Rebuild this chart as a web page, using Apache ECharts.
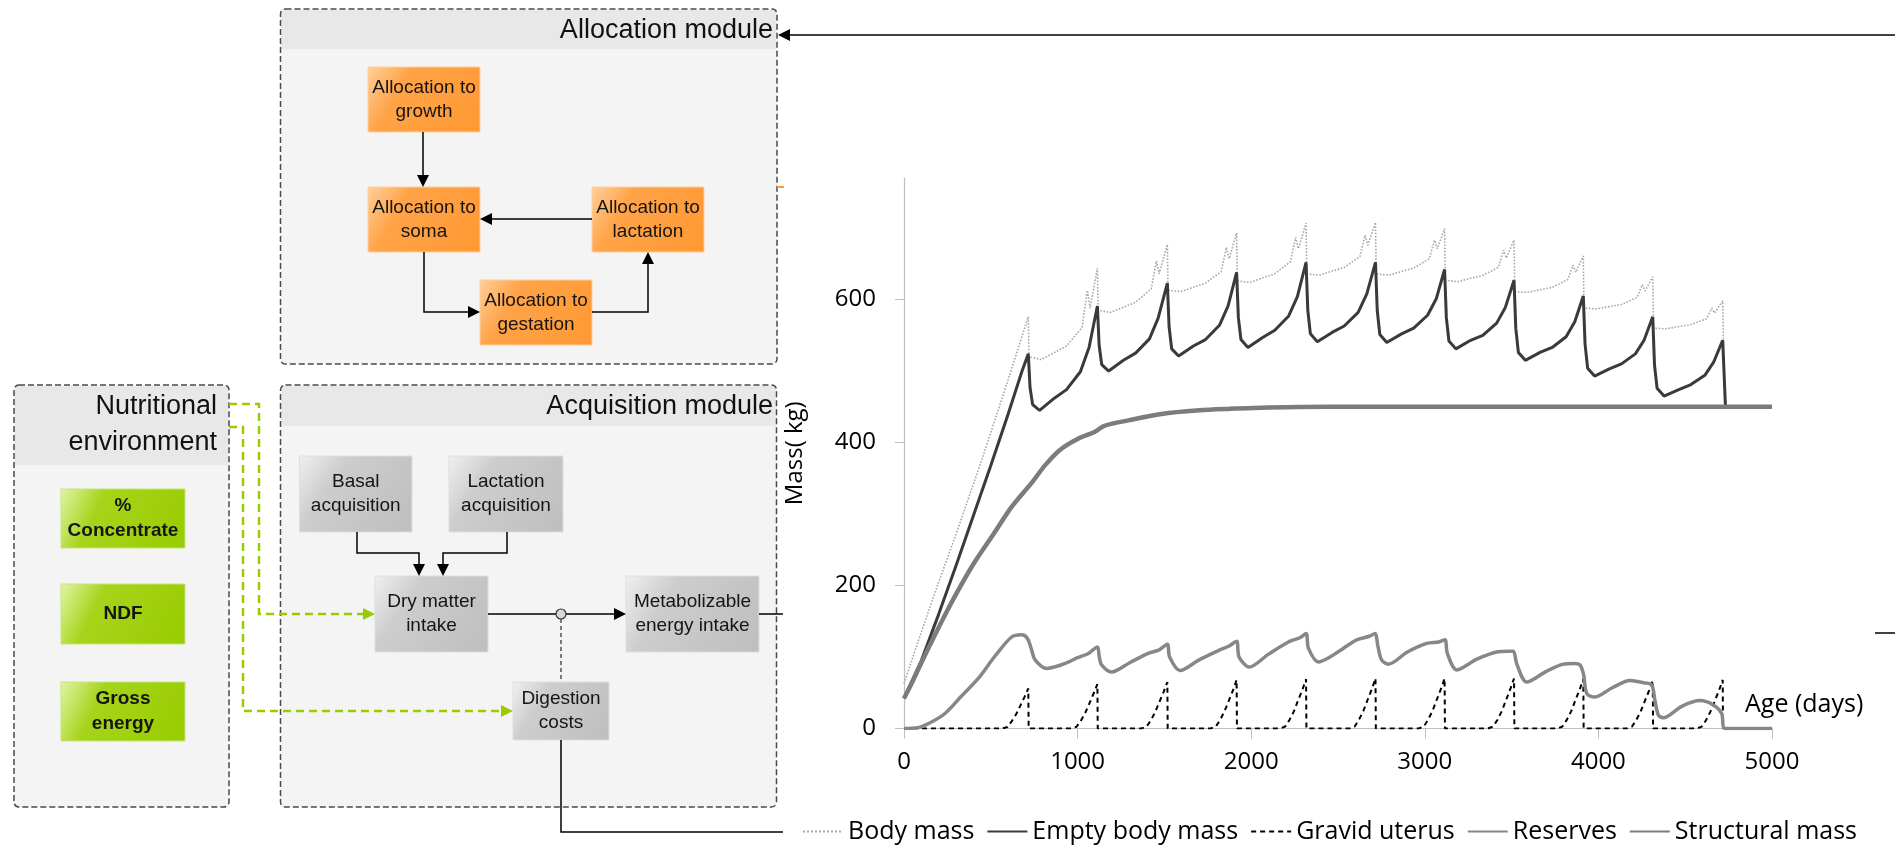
<!DOCTYPE html>
<html><head><meta charset="utf-8">
<script src="https://cdn.jsdelivr.net/npm/echarts@6/dist/echarts.min.js"></script>
<style>html,body{margin:0;padding:0;background:#fff}#c{width:1895px;height:846px}</style>
</head><body><div id="c"></div>
<script>
// ---------- chart data ----------
const ageTicks = [0, 1000, 2000, 3000, 4000, 5000];
const massTicks = [0, 200, 400, 600];
const seriesNames = ['Body mass', 'Empty body mass', 'Gravid uterus', 'Reserves', 'Structural mass'];
const xAxisTitle = 'Age (days)';
const yAxisTitle = 'Mass( kg)';

const bodyMass = [
  [0,63],[100,135],[200,205],[300,272],[447,375],[600,488],[716,576],
  [720,520],[791,516],[936,535],[1026,561],[1056,613],[1072,588],[1114,644],
  [1118,585],[1189,582],[1334,596],[1424,615],[1454,654],[1470,636],[1517,677],
  [1521,613],[1592,611],[1737,623],[1827,639],[1857,673],[1873,657],[1916,693],
  [1920,626],[1991,624],[2136,636],[2226,653],[2256,687],[2272,671],[2316,707],
  [2320,636],[2391,634],[2536,645],[2626,660],[2656,690],[2672,676],[2716,708],
  [2720,636],[2791,634],[2936,644],[3026,657],[3056,683],[3072,671],[3114,699],
  [3118,627],[3189,625],[3334,634],[3424,645],[3454,669],[3470,658],[3514,683],
  [3518,611],[3589,610],[3734,617],[3824,628],[3854,648],[3870,638],[3913,661],
  [3917,588],[3988,587],[4133,593],[4223,603],[4253,621],[4269,612],[4313,632],
  [4317,560],[4388,559],[4533,565],[4623,573],[4653,588],[4669,581],[4716,598],
  [4728,450],[5000,450]
];
const emptyBodyMass = [
  [0,42],[100,95],[200,160],[300,228],[400,298],[500,368],[600,440],[680,500],[716,524],
  [726,477],[741,453],[781,445],[866,462],[936,474],[1016,499],[1066,533],[1114,591],
  [1124,536],[1139,509],[1179,500],[1264,515],[1334,525],[1414,545],[1464,574],[1517,623],
  [1527,562],[1542,531],[1582,521],[1667,535],[1737,544],[1817,564],[1867,591],[1916,638],
  [1926,575],[1941,544],[1981,533],[2066,547],[2136,557],[2216,577],[2266,604],[2316,652],
  [2326,585],[2341,552],[2381,541],[2466,554],[2536,563],[2616,582],[2666,608],[2716,652],
  [2726,585],[2741,551],[2781,540],[2866,552],[2936,560],[3016,578],[3066,601],[3114,642],
  [3124,575],[3139,542],[3179,531],[3264,543],[3334,550],[3414,567],[3464,589],[3514,627],
  [3524,560],[3539,526],[3579,515],[3664,526],[3734,533],[3814,548],[3864,569],[3913,605],
  [3923,538],[3938,504],[3978,493],[4063,503],[4133,510],[4213,524],[4263,543],[4313,576],
  [4323,509],[4338,476],[4378,465],[4463,474],[4533,481],[4613,494],[4663,512],[4716,543],
  [4732,450],[5000,450]
];
const gravidUterus = [
  [0,0],
  [566,0],[596,2],[620,10],[646,20],[668,31],[696,45],[716,56],[718,0],
  [964,0],[994,2.5],[1018,10.5],[1044,22],[1066,34],[1094,50],[1114,62],[1116,0],
  [1367,0],[1397,2.6],[1421,11],[1447,23],[1469,36],[1497,52],[1517,65],[1519,0],
  [1766,0],[1796,2.7],[1820,11.5],[1846,24],[1868,37],[1896,54],[1916,68],[1918,0],
  [2166,0],[2196,2.8],[2220,11.7],[2246,24],[2268,38],[2296,55],[2316,69],[2318,0],
  [2566,0],[2596,2.8],[2620,12],[2646,24.5],[2668,38.5],[2696,56],[2716,70],[2718,0],
  [2964,0],[2994,2.8],[3018,12],[3044,24.5],[3066,38.5],[3094,56],[3114,70],[3116,0],
  [3364,0],[3394,2.8],[3418,12],[3444,24.5],[3466,38.5],[3494,56],[3514,70],[3516,0],
  [3763,0],[3793,2.8],[3817,11.7],[3843,24],[3865,38],[3893,55],[3913,69],[3915,0],
  [4163,0],[4193,2.7],[4217,11.4],[4243,23.5],[4265,37],[4293,53.5],[4313,67],[4315,0],
  [4566,0],[4596,2.7],[4620,11.5],[4646,24],[4668,37],[4696,54],[4716,68],[4718,0],[4735,0]
];
const reserves = [
  [0,0],[80,1],[150,8],[236,21],[330,45],[428,70],[520,100],[620,128],[678,131],[711,126],
  [735,110],[755,96],[822,84],[880,87],[946,93],[1000,99],[1062,105],[1114,114],
  [1125,100],[1138,89],[1196,79],[1300,92],[1407,105],[1470,110],[1517,118],
  [1530,100],[1590,81],[1700,96],[1811,109],[1870,115],[1916,122],
  [1930,100],[1989,86],[2100,104],[2214,121],[2280,127],[2316,133],
  [2330,112],[2387,93],[2454,100],[2530,112],[2608,124],[2680,129],[2713,133],
  [2730,115],[2751,96],[2790,90],[2900,107],[3011,119],[3080,121],[3116,124],
  [3130,105],[3184,82],[3300,97],[3414,107],[3480,108],[3510,108],
  [3530,90],[3587,65],[3700,80],[3798,90],[3860,91],[3894,89],
  [3915,75],[3933,49],[3980,44],[4080,57],[4182,67],[4260,64],[4307,61],
  [4325,40],[4345,19],[4373,15],[4480,31],[4585,39],[4662,33],[4710,21],[4729,0],[5000,0]
];
const structuralMass = [
  [0,42],[50,66],[100,92],[150,117],[228,155],[300,188],[400,230],[516,272],[620,310],
  [740,345],[812,368],[900,390],[1000,405],[1100,415],[1150,423],[1292,431],[1484,440],
  [1700,445],[1868,447],[2100,449],[2444,450],[3000,450],[4000,450],[5000,450]
];

// ---------- diagram drawing (decoration, not data) ----------
const G = [];
const ARIAL = '"Liberation Sans", Arial, sans-serif';
function rect(x,y,w,h,fill,stroke,lw,dash,r){
  G.push({type:'rect',silent:true,shape:{x:x,y:y,width:w,height:h,r:r||0},
    style:{fill:fill,stroke:stroke||null,lineWidth:lw||0,lineDash:dash||null}});
}
function txt(t,x,y,font,align,color,lh){
  G.push({type:'text',silent:true,style:{text:t,x:x,y:y,font:font,textAlign:align||'center',
    textVerticalAlign:'middle',fill:color||'#151515',lineHeight:lh||24}});
}
function pl(points,color,lw,dash){
  G.push({type:'polyline',silent:true,shape:{points:points},
    style:{stroke:color,lineWidth:lw,fill:'none',lineDash:dash||null}});
}
function head(x,y,dir,color){
  const L=12,W=6; let p;
  if(dir==='down') p=[[x,y],[x-W,y-L],[x+W,y-L]];
  else if(dir==='up') p=[[x,y],[x-W,y+L],[x+W,y+L]];
  else if(dir==='left') p=[[x,y],[x+L,y-W],[x+L,y+W]];
  else p=[[x,y],[x-L,y-W],[x-L,y+W]];
  G.push({type:'polygon',silent:true,shape:{points:p},style:{fill:color}});
}
function grad(c0,c1,c2){
  return {type:'linear',x:0,y:0,x2:1,y2:1,colorStops:[{offset:0,color:c0},{offset:0.3,color:c1},{offset:1,color:c2}]};
}
function module(x,y,w,h,hh){
  rect(x,y,w,h,'#f4f4f4');
  rect(x+1,y+1,w-2,hh,'#e8e8e8');
  rect(x,y,w,h,'none','#4a4a4a',1.5,[6,3],5);
}
function box(x,y,w,h,kind,label,bold){
  let f;
  if(kind==='o') f=grad('#ffd09a','#ffa347','#ff9933');
  else if(kind==='g') f=grad('#f0f0f0','#cdcdcd','#bebebe');
  else f=grad('#e2f5a8','#a6d41a','#99cc00');
  rect(x,y,w,h,f,kind==='o'?'#ffcf9f':(kind==='g'?'#dedede':'#c6e67a'),1);
  txt(label,x+w/2,y+h/2,(bold?'bold ':'')+'19px '+ARIAL,'center','#151515',bold?25:24);
}

// modules
module(280.5,9,496.5,355,39);
module(14,385,215,422,79);
module(280.5,385,496,422,40);
txt('Allocation module',773,31,'27px '+ARIAL,'right','#111');
txt('Acquisition module',773,407,'27px '+ARIAL,'right','#111');
txt('Nutritional',217,407,'27px '+ARIAL,'right','#111');
txt('environment',217,443,'27px '+ARIAL,'right','#111');

// allocation boxes
box(368,67,112,65,'o','Allocation to\ngrowth');
box(368,187,112,65,'o','Allocation to\nsoma');
box(592,187,112,65,'o','Allocation to\nlactation');
box(480,280,112,65,'o','Allocation to\ngestation');
// allocation arrows
pl([[423,132],[423,176]],'#000',1.5); head(423,187,'down','#000');
pl([[592,219],[491,219]],'#000',1.5); head(480,219,'left','#000');
pl([[424,252],[424,312],[469,312]],'#000',1.5); head(480,312,'right','#000');
pl([[592,312],[648,312],[648,263]],'#000',1.5); head(648,252,'up','#000');
// tiny orange mark on border
pl([[777,187],[784,187]],'#ff9933',2);
// feedback arrow from the right
pl([[1895,35],[789,35]],'#000',1.5); head(778,35,'left','#000');

// nutritional boxes
box(61,489,124,59,'v','%\nConcentrate',true);
box(61,584,124,60,'v','NDF',true);
box(61,682,124,59,'v','Gross\nenergy',true);

// acquisition boxes
box(299.5,456,112.5,76,'g','Basal\nacquisition');
box(449,456,114,76,'g','Lactation\nacquisition');
box(375,576,113,76,'g','Dry matter\nintake');
box(626,576,133,76,'g','Metabolizable\nenergy intake');
box(513,682,96,58,'g','Digestion\ncosts');
// acquisition arrows
pl([[357,532],[357,553],[419,553],[419,565]],'#000',1.5); head(419,576,'down','#000');
pl([[507,532],[507,553],[443,553],[443,565]],'#000',1.5); head(443,576,'down','#000');
pl([[488,614],[615,614]],'#000',1.5); head(626,614,'right','#000');
pl([[561,619],[561,682]],'#000',1,[4,3]);
G.push({type:'circle',silent:true,shape:{cx:561,cy:614,r:5},style:{fill:'#d8d8d8',stroke:'#333',lineWidth:1.2}});
pl([[759,614],[783,614]],'#000',1.5);
pl([[561,740],[561,832],[783,832]],'#000',1.5);
pl([[1875,633],[1895,633]],'#000',1.5);
// green dashed links
pl([[229,404],[259,404],[259,614],[364,614]],'#99cc00',2.5,[8,5]); head(375,614,'right','#99cc00');
pl([[229,427],[243,427],[243,711],[502,711]],'#99cc00',2.5,[8,5]); head(513,711,'right','#99cc00');

// x axis title inside plot area
G.push({type:'text',silent:true,style:{text:xAxisTitle,x:1745,y:705,font:'25px "Open Sans", sans-serif',
  textAlign:'left',textVerticalAlign:'middle',fill:'#000'}});

// ---------- chart ----------
const chart = echarts.init(document.getElementById('c'), null, {renderer:'canvas'});
const FONT = '"Open Sans", sans-serif';
const axisGray = '#bfbfbf';
function lineSeries(name, data, color, width, type, smooth){
  return {name:name,type:'line',data:data,symbol:'none',showSymbol:false,
    smooth:smooth||false,
    lineStyle:{color:color,width:width,type:type||'solid'},itemStyle:{color:color},
    emphasis:{disabled:true}};
}
chart.setOption({
  animation:false,
  backgroundColor:'#ffffff',
  grid:{left:904,right:123,top:178,bottom:117.5},
  xAxis:{type:'value',min:ageTicks[0],max:ageTicks[ageTicks.length-1],interval:1000,
    axisLine:{show:true,lineStyle:{color:axisGray,width:1.2}},
    axisTick:{show:true,length:10,lineStyle:{color:axisGray}},
    axisLabel:{color:'#000',fontFamily:FONT,fontSize:24,margin:22,formatter:function(v){return String(v);}},
    splitLine:{show:false}},
  yAxis:{type:'value',min:0,max:770,
    name:yAxisTitle,nameLocation:'middle',nameGap:97,nameRotate:90,
    nameTextStyle:{color:'#000',fontFamily:FONT,fontSize:24},
    axisLine:{show:true,lineStyle:{color:axisGray,width:1.2}},
    axisTick:{show:true,length:9,customValues:massTicks,lineStyle:{color:axisGray}},
    axisLabel:{color:'#000',fontFamily:FONT,fontSize:24,margin:28,customValues:massTicks,formatter:function(v){return String(v);}},
    splitLine:{show:false}},
  legend:{left:797,top:814,itemWidth:40,itemHeight:14,itemGap:12,
    itemStyle:{color:'rgba(0,0,0,0)',borderWidth:0,opacity:0},
    textStyle:{color:'#000',fontFamily:FONT,fontSize:25},data:seriesNames},
  series:[
    lineSeries(seriesNames[0], bodyMass, '#a8a8a8', 1.6, 'dotted'),
    lineSeries(seriesNames[1], emptyBodyMass, '#3a3a3a', 3, 'solid'),
    lineSeries(seriesNames[2], gravidUterus, '#000000', 2, [5,4]),
    lineSeries(seriesNames[3], reserves, '#878787', 3.5, 'solid', 0.3),
    lineSeries(seriesNames[4], structuralMass, '#7c7c7c', 4.5, 'solid', 0.3)
  ],
  graphic:G
});
</script></body></html>
